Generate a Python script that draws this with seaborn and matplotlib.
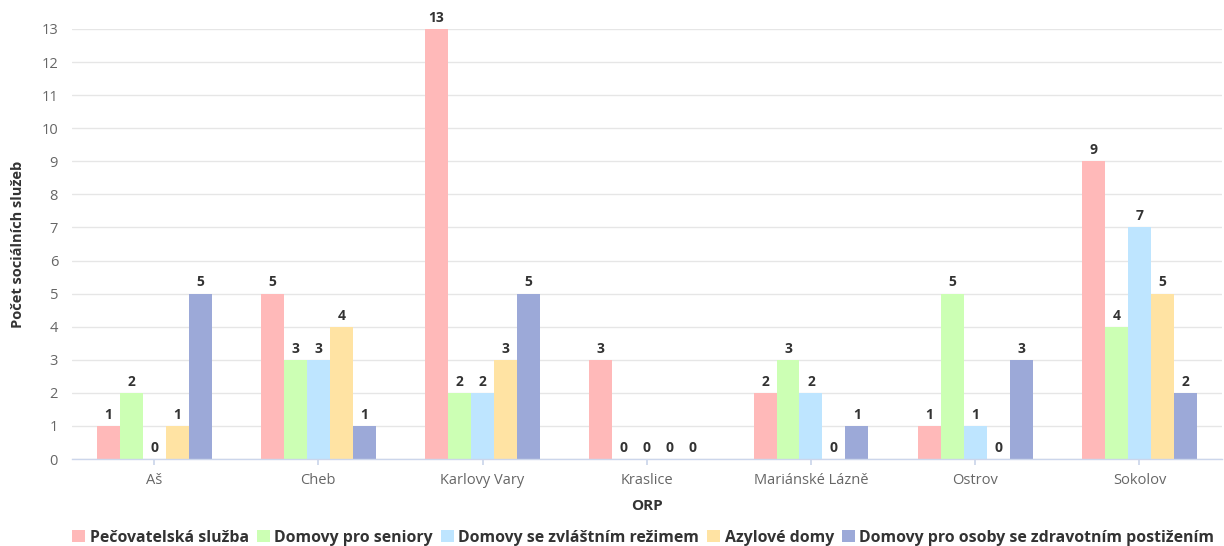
import matplotlib
matplotlib.use("Agg")
import matplotlib.pyplot as plt
import seaborn as sns
import pandas as pd

categories = ["Aš", "Cheb", "Karlovy Vary", "Kraslice", "Mariánské Lázně", "Ostrov", "Sokolov"]
series_names = [
    "Pečovatelská služba",
    "Domovy pro seniory",
    "Domovy se zvláštním režimem",
    "Azylové domy",
    "Domovy pro osoby se zdravotním postižením",
]
pecovatelska = [1, 5, 13, 3, 2, 1, 9]
seniori = [2, 3, 2, 0, 3, 5, 4]
zvlastni_rezim = [0, 3, 2, 0, 2, 1, 7]
azylove = [1, 4, 3, 0, 0, 0, 5]
postizeni = [5, 1, 5, 0, 1, 3, 2]
y_ticks = list(range(0, 14))

colors = ["#FFB9B9", "#CCFFB4", "#BEE5FF", "#FFE3A3", "#9CA9D8"]

rows = []
for name, vals in zip(series_names, [pecovatelska, seniori, zvlastni_rezim, azylove, postizeni]):
    for cat, v in zip(categories, vals):
        rows.append({"ORP": cat, "Služba": name, "Počet": v})
df = pd.DataFrame(rows)

sns.set_theme(style="white")
plt.rcParams["font.family"] = ["Open Sans", "DejaVu Sans"]

fig = plt.figure(figsize=(12.24, 5.46), dpi=100)
ax = fig.add_axes([0.0588, 0.1593, 0.9392, 0.7876])

sns.barplot(data=df, x="ORP", y="Počet", hue="Služba", order=categories,
            hue_order=series_names, palette=colors, width=0.7, saturation=1,
            linewidth=0, edgecolor="none", ax=ax, legend=True)

for cont in ax.containers:
    ax.bar_label(cont, fmt="%d", padding=3, fontsize=10, fontweight="bold", color="#333333")

ax.set_ylim(0, 13)
ax.set_yticks(y_ticks)
ax.set_xlim(-0.5, len(categories) - 0.5)
ax.yaxis.grid(True, color="#e6e6e6", linewidth=1)
ax.set_axisbelow(True)
for s in ["top", "right", "left"]:
    ax.spines[s].set_visible(False)
ax.spines["bottom"].set_color("#ccd6eb")
ax.spines["bottom"].set_linewidth(1)
ax.tick_params(axis="x", colors="#666666", labelsize=10.5, length=4, color="#ccd6eb", pad=6, bottom=True)
ax.tick_params(axis="y", colors="#666666", labelsize=10.5, length=0, pad=10)
ax.set_xlabel("ORP", fontsize=11, fontweight="bold", color="#333333", labelpad=8)
ax.set_ylabel("Počet sociálních služeb", fontsize=10.5, fontweight="bold", color="#333333", labelpad=12)

handles, labels = ax.get_legend_handles_labels()
ax.legend(handles, labels, loc="lower center", bbox_to_anchor=(0.497, -0.235), ncol=5,
          frameon=False, handlelength=0.8, handleheight=0.8, handletextpad=0.3,
          columnspacing=0.5, prop={"weight": "bold", "size": 11.45})
for t in ax.get_legend().get_texts():
    t.set_color("#333333")

fig.savefig("out.png", dpi=100)
